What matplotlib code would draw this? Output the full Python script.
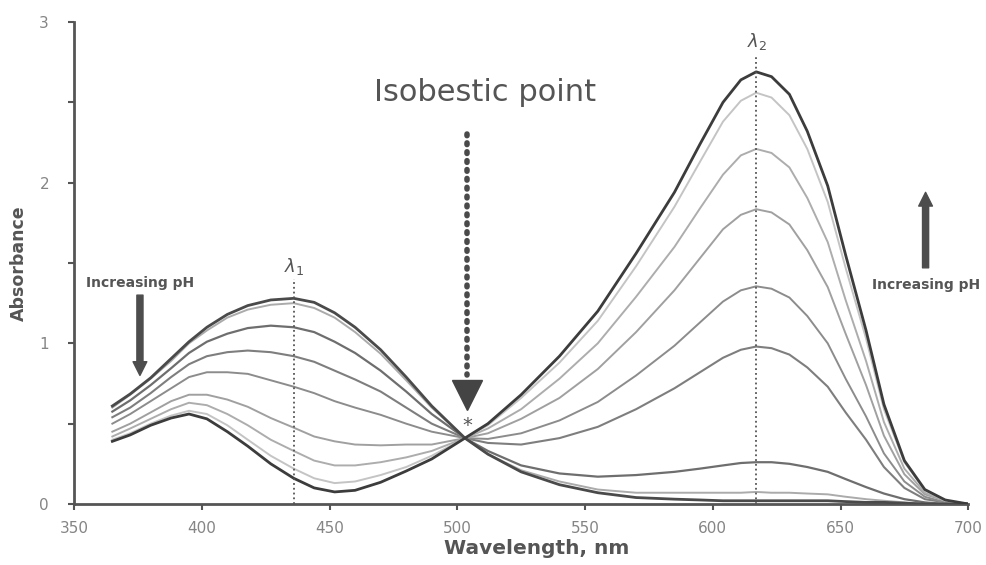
import matplotlib
matplotlib.use('Agg')
import matplotlib.pyplot as plt
from matplotlib.ticker import MultipleLocator, FuncFormatter

# wavelengths (nm) shared by all spectra
wavelength = [365, 372, 380, 388, 395, 402, 410, 418, 427, 436, 444, 452, 460, 470, 480, 490, 503,
              512, 525, 540, 555, 570, 585, 595, 604, 611, 617, 623, 630, 637, 645, 652, 660, 667,
              675, 683, 691, 700]

# absorbance spectra, lowest pH first
abs_ph1 = [0.61, 0.685, 0.785, 0.905, 1.01, 1.10, 1.18, 1.235, 1.27, 1.28, 1.255, 1.19, 1.10, 0.96,
           0.79, 0.61, 0.41,
           0.31, 0.20, 0.12, 0.07, 0.04, 0.03, 0.025, 0.02, 0.02, 0.02, 0.02, 0.02, 0.02, 0.02,
           0.015, 0.01, 0.01, 0.005, 0.0, 0.0, 0.0]
abs_ph2 = [0.60, 0.68, 0.78, 0.89, 1.00, 1.08, 1.16, 1.21, 1.24, 1.25, 1.22, 1.16, 1.07, 0.935,
           0.77, 0.60, 0.41,
           0.31, 0.21, 0.14, 0.09, 0.07, 0.07, 0.07, 0.07, 0.07, 0.075, 0.07, 0.07, 0.065, 0.06,
           0.045, 0.03, 0.02, 0.01, 0.0, 0.0, 0.0]
abs_ph3 = [0.575, 0.645, 0.74, 0.845, 0.94, 1.01, 1.06, 1.095, 1.11, 1.10, 1.07, 1.01, 0.94, 0.83,
           0.70, 0.56, 0.41,
           0.33, 0.24, 0.19, 0.17, 0.18, 0.20, 0.22, 0.24, 0.255, 0.26, 0.26, 0.25, 0.23, 0.20,
           0.155, 0.105, 0.065, 0.03, 0.01, 0.0, 0.0]
abs_ph4 = [0.54, 0.60, 0.69, 0.79, 0.87, 0.92, 0.945, 0.955, 0.945, 0.92, 0.885, 0.83, 0.775, 0.70,
           0.60, 0.50, 0.41,
           0.38, 0.37, 0.41, 0.48, 0.59, 0.72, 0.82, 0.91, 0.96, 0.98, 0.97, 0.93, 0.85, 0.73,
           0.57, 0.40, 0.23, 0.10, 0.03, 0.01, 0.0]
abs_ph5 = [0.50, 0.56, 0.64, 0.72, 0.79, 0.82, 0.82, 0.81, 0.77, 0.73, 0.69, 0.64, 0.60, 0.555,
           0.50, 0.45, 0.41,
           0.405, 0.44, 0.52, 0.635, 0.80, 0.985, 1.13, 1.26, 1.33, 1.355, 1.34, 1.285, 1.17, 1.00,
           0.78, 0.545, 0.315, 0.14, 0.045, 0.01, 0.0]
abs_ph6 = [0.45, 0.50, 0.57, 0.64, 0.68, 0.68, 0.65, 0.605, 0.535, 0.475, 0.42, 0.39, 0.37, 0.365,
           0.37, 0.37, 0.41,
           0.44, 0.53, 0.66, 0.84, 1.07, 1.33, 1.53, 1.71, 1.80, 1.835, 1.815, 1.74, 1.58, 1.35,
           1.06, 0.74, 0.425, 0.185, 0.06, 0.02, 0.0]
abs_ph7 = [0.42, 0.47, 0.53, 0.59, 0.63, 0.615, 0.56, 0.49, 0.40, 0.33, 0.27, 0.24, 0.24, 0.26,
           0.29, 0.33, 0.41,
           0.47, 0.59, 0.78, 1.00, 1.29, 1.60, 1.84, 2.05, 2.17, 2.21, 2.185, 2.095, 1.905, 1.63,
           1.27, 0.89, 0.51, 0.22, 0.07, 0.02, 0.0]
abs_ph8 = [0.40, 0.44, 0.50, 0.55, 0.58, 0.56, 0.49, 0.40, 0.30, 0.22, 0.16, 0.13, 0.14, 0.18,
           0.23, 0.30, 0.41,
           0.49, 0.66, 0.88, 1.14, 1.48, 1.85, 2.13, 2.38, 2.51, 2.56, 2.53, 2.42, 2.21, 1.88,
           1.47, 1.03, 0.59, 0.26, 0.085, 0.02, 0.0]
abs_ph9 = [0.39, 0.43, 0.49, 0.535, 0.56, 0.53, 0.45, 0.36, 0.25, 0.16, 0.10, 0.075, 0.085, 0.135,
           0.205, 0.28, 0.41,
           0.50, 0.68, 0.92, 1.20, 1.56, 1.94, 2.24, 2.50, 2.64, 2.69, 2.66, 2.55, 2.32, 1.98,
           1.55, 1.08, 0.62, 0.27, 0.09, 0.025, 0.0]

spectra = [abs_ph1, abs_ph2, abs_ph3, abs_ph4, abs_ph5, abs_ph6, abs_ph7, abs_ph8, abs_ph9]
colores = ['#4a4a4a', '#ababab', '#6e6e6e', '#7e7e7e', '#8c8c8c', '#a0a0a0', '#adadad', '#c4c4c4', '#3c3c3c']
grosor = [2.0, 1.4, 1.6, 1.5, 1.4, 1.4, 1.4, 1.4, 2.0]

lambda1 = 436
lambda2 = 617
isosbestic = 503.8

gris = '#555555'

fig = plt.figure(figsize=(9.87, 5.65), dpi=100)
ax = fig.add_axes([0.075, 0.108, 0.906, 0.853])

for y, c, lw in zip(spectra, colores, grosor):
    ax.plot(wavelength, y, color=c, linewidth=lw, solid_joinstyle='round',
            zorder=3 if lw > 1.8 else 2)

# lineas punteadas en lambda1 y lambda2
ax.plot([lambda1, lambda1], [0, 1.40], color=gris, linewidth=1.3, linestyle=':', zorder=4)
ax.plot([lambda2, lambda2], [0, 2.78], color=gris, linewidth=1.3, linestyle=':', zorder=4)
ax.text(lambda1, 1.48, r'$\lambda_1$', ha='center', va='center', fontsize=13, color=gris)
ax.text(lambda2 + 0.5, 2.88, r'$\lambda_2$', ha='center', va='center', fontsize=13, color=gris)

# punto isosbestico
ax.text(511, 2.56, 'Isobestic point', ha='center', va='center', fontsize=22, color=gris)
ax.plot([isosbestic, isosbestic], [2.30, 0.80], color='#4a4a4a', linewidth=4,
        linestyle=(0, (0.3, 1.3)), dash_capstyle='round', zorder=5)
ax.plot(isosbestic, 0.68, marker='v', markersize=21, color='#444444', zorder=5)
ax.text(isosbestic, 0.49, '*', ha='center', va='center', fontsize=14, color=gris, zorder=5)

# flechas de pH
flecha = dict(arrowstyle='simple,head_width=0.9,head_length=0.9,tail_width=0.4',
              color='#4d4d4d', mutation_scale=11, shrinkA=0, shrinkB=0)
ax.text(375.8, 1.375, 'Increasing pH', ha='center', va='center', fontsize=10,
        fontweight='bold', color=gris)
ax.annotate('', xy=(375.8, 0.80), xytext=(375.8, 1.30), arrowprops=flecha)
ax.text(683.5, 1.363, 'Increasing pH', ha='center', va='center', fontsize=10,
        fontweight='bold', color=gris, clip_on=False)
ax.annotate('', xy=(683.3, 1.94), xytext=(683.3, 1.47), arrowprops=flecha)

# ejes
ax.set_xlim(350, 700)
ax.set_ylim(0, 3)
ax.xaxis.set_major_locator(MultipleLocator(50))
ax.yaxis.set_major_locator(MultipleLocator(0.5))
ax.yaxis.set_major_formatter(FuncFormatter(lambda v, p: f'{v:.0f}' if v == int(v) else ''))
ax.tick_params(direction='out', length=4, width=1.5, color=gris, labelcolor='#858585',
               labelsize=11)
ax.tick_params(axis='y', pad=14)
ax.tick_params(axis='x', pad=8)

ax.spines['top'].set_visible(False)
ax.spines['right'].set_visible(False)
for s in ['left', 'bottom']:
    ax.spines[s].set_color(gris)
    ax.spines[s].set_linewidth(2)

ax.set_xlabel('Wavelength, nm', fontsize=14.5, fontweight='bold', color=gris)
ax.xaxis.set_label_coords(0.517, -0.072)
ax.set_ylabel('Absorbance', fontsize=12.5, fontweight='bold', color=gris, labelpad=8)

fig.savefig('out.png', dpi=100)
